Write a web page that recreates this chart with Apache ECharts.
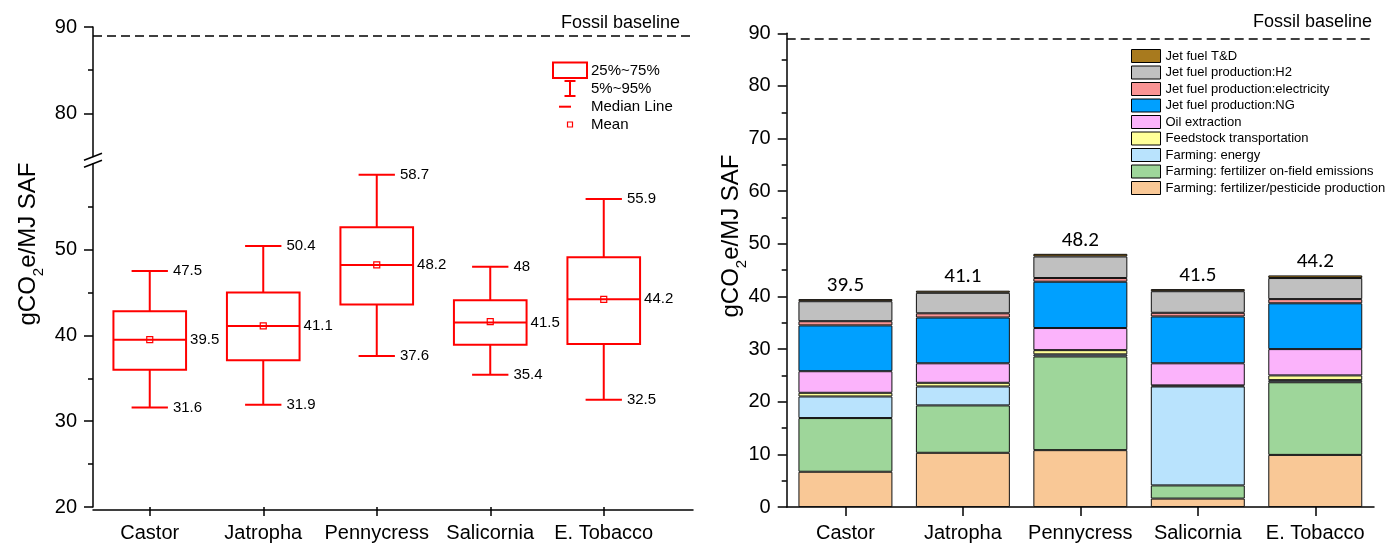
<!DOCTYPE html>
<html>
<head>
<meta charset="utf-8">
<script src="https://cdn.jsdelivr.net/npm/echarts@6/dist/echarts.min.js"></script>
<style>
html,body{margin:0;padding:0;background:#fff;}
#c{width:1391px;height:543px;}
</style>
</head>
<body>
<div id="c"></div>
<script>
// ---------- data ----------
const categories = ['Castor', 'Jatropha', 'Pennycress', 'Salicornia', 'E. Tobacco'];
// left panel: distribution statistics
const p5     = [31.6, 31.9, 37.6, 35.4, 32.5];
const p25    = [36.0, 37.1, 43.6, 38.9, 39.0];
const median = [39.5, 41.1, 48.2, 41.5, 44.2];
const p75    = [42.8, 45.0, 52.6, 44.1, 49.1];
const p95    = [47.5, 50.4, 58.7, 48, 55.9];
const mean   = [39.5, 41.1, 48.2, 41.6, 44.2];
const fossilBaseline = 89;
// right panel: contribution breakdown (stack order bottom -> top)
const seriesNames = [
  'Farming: fertilizer/pesticide production',
  'Farming: fertilizer on-field emissions',
  'Farming: energy',
  'Feedstock transportation',
  'Oil extraction',
  'Jet fuel production:NG',
  'Jet fuel production:electricity',
  'Jet fuel production:H2',
  'Jet fuel T&D'
];
const fertProd   = [6.7, 10.3, 10.8, 1.6, 9.9];
const fertField  = [10.2, 9.0, 17.8, 2.5, 13.8];
const farmEnergy = [4.1, 3.6, 0.4, 18.8, 0.4];
const transport  = [0.7, 0.7, 0.8, 0.2, 0.9];
const oilExtract = [4.1, 3.7, 4.2, 4.2, 5.0];
const jetNG      = [8.7, 8.7, 8.8, 8.9, 8.7];
const jetElec    = [0.8, 0.8, 0.7, 0.7, 0.8];
const jetH2      = [3.8, 3.9, 4.1, 4.1, 4.0];
const jetTD      = [0.4, 0.4, 0.5, 0.4, 0.5];
const totals     = [39.5, 41.1, 48.2, 41.5, 44.2];
const leftMajorUpper = [80, 90];
const leftMinorUpper = [85];
const leftMajorLower = [20, 30, 40, 50];
const leftMinorLower = [25, 35, 45, 55];

// ---------- styling ----------
const RED = '#FF0000';
const FONT = 'Liberation Sans, Arial, sans-serif';
const colors = ['#F9C896', '#9ED69A', '#B9E3FD', '#FFFF99', '#FBB3FB', '#00A0FF', '#F99494', '#C0C0C0', '#A87A1E'];
const stackData = [fertProd, fertField, farmEnergy, transport, oilExtract, jetNG, jetElec, jetH2, jetTD];

const boxData = categories.map((c, i) => [i, p5[i], p25[i], median[i], p75[i], p95[i], mean[i]]);

function renderBox(params, api) {
  const i = api.value(0);
  const band = api.size([1, 0])[0];
  const bw = band * 0.64;
  const cw = bw * 0.5;
  const pL = api.coord([i, api.value(1)]);
  const p1 = api.coord([i, api.value(2)]);
  const pM = api.coord([i, api.value(3)]);
  const p3 = api.coord([i, api.value(4)]);
  const pH = api.coord([i, api.value(5)]);
  const pMe = api.coord([i, api.value(6)]);
  const cx = pM[0];
  const ls = { stroke: RED, lineWidth: 2, fill: null };
  const ts = (t, x, y) => ({ type: 'text', x: x, y: y, style: { text: String(t), fontSize: 15, fontFamily: FONT, fill: '#000', verticalAlign: 'middle', align: 'left' } });
  return {
    type: 'group',
    children: [
      { type: 'line', shape: { x1: cx, y1: p3[1], x2: cx, y2: pH[1] }, style: ls },
      { type: 'line', shape: { x1: cx, y1: p1[1], x2: cx, y2: pL[1] }, style: ls },
      { type: 'line', shape: { x1: cx - cw / 2, y1: pH[1], x2: cx + cw / 2, y2: pH[1] }, style: ls },
      { type: 'line', shape: { x1: cx - cw / 2, y1: pL[1], x2: cx + cw / 2, y2: pL[1] }, style: ls },
      { type: 'rect', shape: { x: cx - bw / 2, y: p3[1], width: bw, height: p1[1] - p3[1] }, style: { stroke: RED, lineWidth: 2, fill: 'rgba(0,0,0,0)' } },
      { type: 'line', shape: { x1: cx - bw / 2, y1: pM[1], x2: cx + bw / 2, y2: pM[1] }, style: ls },
      { type: 'rect', shape: { x: cx - 3, y: pMe[1] - 3, width: 6, height: 6 }, style: { stroke: RED, lineWidth: 1.2, fill: 'rgba(0,0,0,0)' } },
      ts(p95[params.dataIndex], cx + cw / 2 + 5, pH[1]),
      ts(median[params.dataIndex], cx + bw / 2 + 4, pM[1]),
      ts(p5[params.dataIndex], cx + cw / 2 + 5, pL[1])
    ]
  };
}

const axisLineStyle = { color: '#000', width: 1.5 };
const nameRich = {
  a: { fontSize: 24, fontFamily: FONT, fill: '#000', color: '#000' },
  s: { fontSize: 15, fontFamily: FONT, fill: '#000', color: '#000', padding: [22, 0, 0, 0] }
};

const barSeries = seriesNames.map((name, k) => {
  const s = {
    name: name,
    type: 'bar',
    stack: 'total',
    xAxisIndex: 3,
    yAxisIndex: 5,
    barWidth: '80%',
    data: stackData[k],
    itemStyle: { color: colors[k], borderColor: '#111', borderWidth: 1 },
    emphasis: { disabled: true }
  };
  if (k === seriesNames.length - 1) {
    s.label = {
      show: true, position: 'top', distance: 3,
      fontFamily: 'Carlito, Lato, sans-serif', fontSize: 21, color: '#000',
      formatter: p => String(totals[p.dataIndex])
    };
    s.markLine = {
      silent: true, symbol: ['none', 'none'], label: { show: false },
      lineStyle: { color: '#000', type: [9, 5], width: 1.5 },
      data: [{ yAxis: fossilBaseline }]
    };
  }
  return s;
});

const option = {
  animation: false,
  textStyle: { fontFamily: FONT },
  grid: [
    { left: 93, right: 698, top: 27, bottom: 543 - 156.6 },   // upper-left (break top)
    { left: 93, right: 730.5, top: 163.7, bottom: 33 },       // lower-left
    { left: 93, right: 698, top: 509, bottom: 33 },           // full-width bottom axis line
    { left: 786.7, right: 17, top: 33.3, bottom: 36 }         // right panel
  ],
  xAxis: [
    { gridIndex: 0, type: 'category', data: categories, show: false },
    { gridIndex: 1, type: 'category', data: categories,
      axisLine: { show: false },
      axisTick: { show: true, alignWithLabel: true, length: 9, lineStyle: { color: '#000', width: 1.5 } },
      axisLabel: { fontSize: 20, color: '#000', margin: 16, interval: 0 } },
    { gridIndex: 2, type: 'value', min: 0, max: 1,
      axisLine: { show: true, lineStyle: axisLineStyle },
      axisTick: { show: false }, axisLabel: { show: false }, splitLine: { show: false } },
    { gridIndex: 3, type: 'category', data: categories,
      axisLine: { show: true, lineStyle: axisLineStyle },
      axisTick: { show: true, alignWithLabel: true, length: 9, lineStyle: { color: '#000', width: 1.5 } },
      axisLabel: { fontSize: 20, color: '#000', margin: 16, interval: 0 } }
  ],
  yAxis: [
    { gridIndex: 0, type: 'value', min: 75, max: 90, interval: 5,
      axisLine: { show: true, lineStyle: axisLineStyle },
      axisTick: { show: true, length: 9, customValues: leftMajorUpper, lineStyle: { color: '#000', width: 1.5 } },
      axisLabel: { fontSize: 20, color: '#000', margin: 16, customValues: leftMajorUpper },
      splitLine: { show: false } },
    { gridIndex: 1, type: 'value', min: 20, max: 60, interval: 10,
      axisLine: { show: true, lineStyle: axisLineStyle },
      axisTick: { show: true, length: 9, customValues: leftMajorLower, lineStyle: { color: '#000', width: 1.5 } },
      axisLabel: { fontSize: 20, color: '#000', margin: 16, customValues: leftMajorLower },
      splitLine: { show: false } },
    { gridIndex: 1, type: 'value', min: 20, max: 60, interval: 10, position: 'left',
      axisLine: { show: false },
      axisTick: { show: true, length: 5, customValues: leftMinorLower, lineStyle: { color: '#000', width: 1.5 } },
      axisLabel: { show: false }, splitLine: { show: false } },
    { gridIndex: 0, type: 'value', min: 75, max: 90, interval: 5, position: 'left',
      axisLine: { show: false },
      axisTick: { show: true, length: 5, customValues: leftMinorUpper, lineStyle: { color: '#000', width: 1.5 } },
      axisLabel: { show: false }, splitLine: { show: false } },
    { gridIndex: 2, type: 'value', show: false },
    { gridIndex: 3, type: 'value', min: 0, max: 90, interval: 10,
      axisLine: { show: true, lineStyle: axisLineStyle },
      axisTick: { show: true, length: 9, lineStyle: { color: '#000', width: 1.5 } },
      minorTick: { show: true, splitNumber: 2, length: 5, lineStyle: { color: '#000', width: 1.5 } },
      axisLabel: { fontSize: 20, color: '#000', margin: 16 },
      splitLine: { show: false }, minorSplitLine: { show: false } }
  ],
  legend: {
    orient: 'vertical',
    left: 1126,
    top: 44,
    itemWidth: 29,
    itemHeight: 13,
    itemGap: 2.5,
    icon: 'rect',
    selectedMode: false,
    itemStyle: { borderColor: '#000', borderWidth: 1 },
    textStyle: { fontSize: 13, lineHeight: 14, color: '#000', fontFamily: FONT },
    data: seriesNames.slice().reverse()
  },
  series: [
    { type: 'line', xAxisIndex: 0, yAxisIndex: 0, data: [], silent: true,
      markLine: {
        silent: true, symbol: ['none', 'none'], label: { show: false },
        lineStyle: { color: '#000', type: [9, 5], width: 1.5 },
        data: [{ yAxis: fossilBaseline }]
      } },
    { type: 'custom', xAxisIndex: 1, yAxisIndex: 1, data: boxData,
      encode: { x: 0, y: [1, 2, 3, 4, 5] }, renderItem: renderBox, silent: true, clip: false },
    ...barSeries
  ],
  graphic: [
    // axis titles
    { type: 'text', x: 28, y: 244, rotation: Math.PI / 2,
      style: { text: '{a|gCO}{s|2}{a|e/MJ SAF}', rich: nameRich, align: 'center', verticalAlign: 'middle' } },
    { type: 'text', x: 731, y: 236, rotation: Math.PI / 2,
      style: { text: '{a|gCO}{s|2}{a|e/MJ SAF}', rich: nameRich, align: 'center', verticalAlign: 'middle' } },
    // fossil baseline captions
    { type: 'text', x: 680, y: 23.5, style: { text: 'Fossil baseline', fontSize: 18, fontFamily: FONT, fill: '#000', align: 'right', verticalAlign: 'middle' } },
    { type: 'text', x: 1372, y: 22, style: { text: 'Fossil baseline', fontSize: 18, fontFamily: FONT, fill: '#000', align: 'right', verticalAlign: 'middle' } },
    // axis break marker
    { type: 'line', shape: { x1: 84, y1: 160.2, x2: 102, y2: 153.2 }, style: { stroke: '#000', lineWidth: 1.5 } },
    { type: 'line', shape: { x1: 84, y1: 167.3, x2: 102, y2: 160.3 }, style: { stroke: '#000', lineWidth: 1.5 } },
    // box-plot key
    { type: 'rect', shape: { x: 553, y: 62.5, width: 34, height: 15.5 }, style: { stroke: RED, lineWidth: 2, fill: 'rgba(0,0,0,0)' } },
    { type: 'line', shape: { x1: 570, y1: 81, x2: 570, y2: 96 }, style: { stroke: RED, lineWidth: 2 } },
    { type: 'line', shape: { x1: 564.5, y1: 81, x2: 575.5, y2: 81 }, style: { stroke: RED, lineWidth: 2 } },
    { type: 'line', shape: { x1: 564.5, y1: 96, x2: 575.5, y2: 96 }, style: { stroke: RED, lineWidth: 2 } },
    { type: 'line', shape: { x1: 559, y1: 106.7, x2: 571, y2: 106.7 }, style: { stroke: RED, lineWidth: 2 } },
    { type: 'rect', shape: { x: 567.5, y: 122, width: 5, height: 5 }, style: { stroke: RED, lineWidth: 1.2, fill: 'rgba(0,0,0,0)' } },
    { type: 'text', x: 591, y: 71, style: { text: '25%~75%', fontSize: 15, fontFamily: FONT, fill: '#000', verticalAlign: 'middle' } },
    { type: 'text', x: 591, y: 89, style: { text: '5%~95%', fontSize: 15, fontFamily: FONT, fill: '#000', verticalAlign: 'middle' } },
    { type: 'text', x: 591, y: 107, style: { text: 'Median Line', fontSize: 15, fontFamily: FONT, fill: '#000', verticalAlign: 'middle' } },
    { type: 'text', x: 591, y: 125, style: { text: 'Mean', fontSize: 15, fontFamily: FONT, fill: '#000', verticalAlign: 'middle' } }
  ]
};

const chart = echarts.init(document.getElementById('c'), null, { renderer: 'canvas' });
chart.setOption(option);
</script>
</body>
</html>
